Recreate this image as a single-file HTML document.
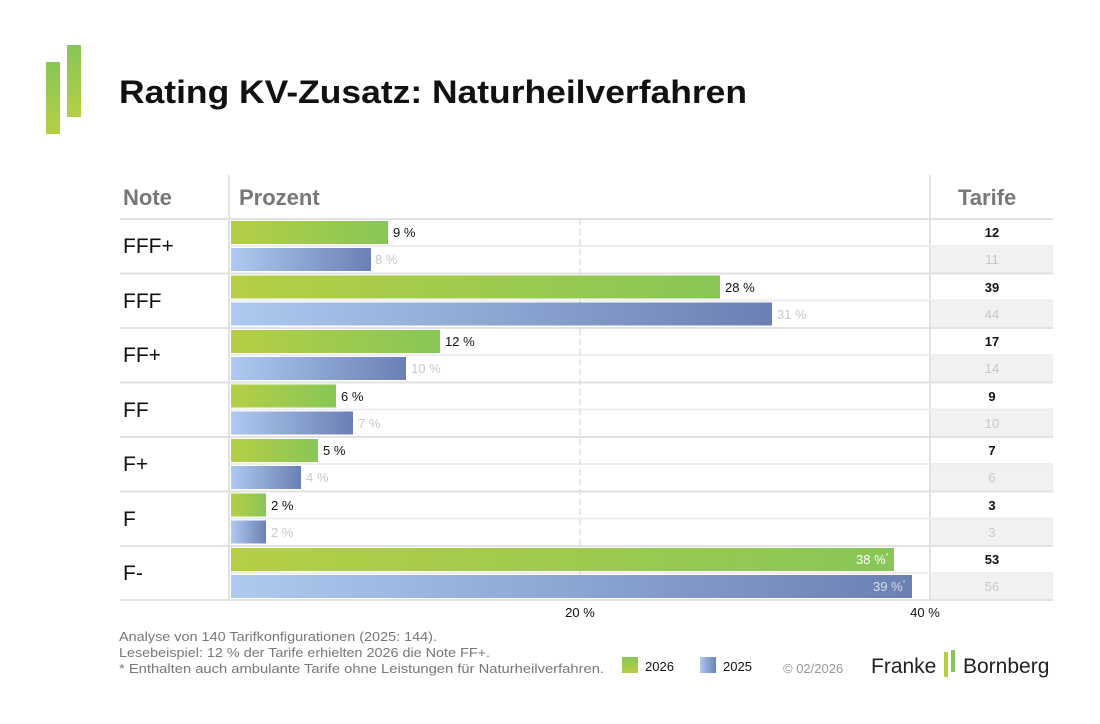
<!DOCTYPE html><html><head><meta charset="utf-8"><style>body{margin:0;background:#fff}svg{display:block;font-family:"Liberation Sans",sans-serif}</style></head><body>
<svg width="1100" height="724" viewBox="0 0 1100 724">
<defs>
<linearGradient id="g" x1="0" x2="1"><stop offset="0" stop-color="#b5cf45"/><stop offset="1" stop-color="#88c657"/></linearGradient>
<linearGradient id="b" x1="0" x2="1"><stop offset="0" stop-color="#aecaf0"/><stop offset="1" stop-color="#6b80b3"/></linearGradient>
<linearGradient id="lg" x1="0" y1="0" x2="0" y2="1"><stop offset="0" stop-color="#88c657"/><stop offset="1" stop-color="#b5cf45"/></linearGradient>
</defs>
<rect x="46" y="62" width="14" height="72" fill="url(#lg)"/>
<rect x="67" y="45" width="14" height="72" fill="url(#lg)"/>
<text x="119" y="103" font-size="32" font-weight="bold" fill="#111" textLength="628" lengthAdjust="spacingAndGlyphs">Rating KV-Zusatz: Naturheilverfahren</text>
<g font-size="22" font-weight="bold" fill="#777">
<text x="123" y="205">Note</text><text x="239" y="205">Prozent</text><text x="958" y="205">Tarife</text></g>
<g fill="#f1f1f1">
<rect x="931" y="247" width="122" height="26"/><rect x="931" y="301.5" width="122" height="26"/><rect x="931" y="356" width="122" height="26"/><rect x="931" y="410.5" width="122" height="26"/><rect x="931" y="465" width="122" height="26"/><rect x="931" y="519.5" width="122" height="26"/><rect x="931" y="574" width="122" height="26"/></g>
<g stroke="#e2e2e2" stroke-width="2">
<line x1="229" y1="175" x2="229" y2="600"/><line x1="930" y1="175" x2="930" y2="600"/>
<line x1="120" y1="219" x2="1053" y2="219"/><line x1="120" y1="273.5" x2="1053" y2="273.5"/><line x1="120" y1="328" x2="1053" y2="328"/><line x1="120" y1="382.5" x2="1053" y2="382.5"/><line x1="120" y1="437" x2="1053" y2="437"/><line x1="120" y1="491.5" x2="1053" y2="491.5"/><line x1="120" y1="546" x2="1053" y2="546"/><line x1="120" y1="600" x2="1053" y2="600"/>
</g>
<g stroke="#eee" stroke-width="2">
<line x1="231" y1="246" x2="1053" y2="246"/><line x1="231" y1="300.5" x2="1053" y2="300.5"/><line x1="231" y1="355" x2="1053" y2="355"/><line x1="231" y1="409.5" x2="1053" y2="409.5"/><line x1="231" y1="464" x2="1053" y2="464"/><line x1="231" y1="518.5" x2="1053" y2="518.5"/><line x1="231" y1="573" x2="1053" y2="573"/></g>
<line x1="580" y1="219" x2="580" y2="600" stroke="#ddd" stroke-width="1.5" stroke-dasharray="6,4"/>
<g>
<rect x="231" y="221" width="157" height="23" fill="url(#g)"/><rect x="231" y="248" width="140" height="23" fill="url(#b)"/>
<rect x="231" y="275.5" width="489" height="23" fill="url(#g)"/><rect x="231" y="302.5" width="541" height="23" fill="url(#b)"/>
<rect x="231" y="330" width="209" height="23" fill="url(#g)"/><rect x="231" y="357" width="175" height="23" fill="url(#b)"/>
<rect x="231" y="384.5" width="105" height="23" fill="url(#g)"/><rect x="231" y="411.5" width="122" height="23" fill="url(#b)"/>
<rect x="231" y="439" width="87" height="23" fill="url(#g)"/><rect x="231" y="466" width="70" height="23" fill="url(#b)"/>
<rect x="231" y="493.5" width="35" height="23" fill="url(#g)"/><rect x="231" y="520.5" width="35" height="23" fill="url(#b)"/>
<rect x="231" y="548" width="663" height="23" fill="url(#g)"/><rect x="231" y="575" width="681" height="23" fill="url(#b)"/>
</g>
<g font-size="13" fill="#111">
<text x="393" y="237">9 %</text><text x="725" y="292">28 %</text><text x="445" y="346">12 %</text><text x="341" y="401">6 %</text><text x="323" y="455">5 %</text><text x="271" y="510">2 %</text></g>
<g font-size="13" fill="#c8c8c8">
<text x="375" y="264">8 %</text><text x="777" y="319">31 %</text><text x="411" y="373">10 %</text><text x="358" y="428">7 %</text><text x="306" y="482">4 %</text><text x="271" y="537">2 %</text></g>
<text x="856" y="564" font-size="13" fill="#fff">38 %<tspan font-size="7" dy="-6">*</tspan></text>
<text x="873" y="591" font-size="13" fill="#d8dde8">39 %<tspan font-size="7" dy="-6">*</tspan></text>
<g font-size="21" fill="#111">
<text x="123" y="253">FFF+</text><text x="123" y="308">FFF</text><text x="123" y="362">FF+</text><text x="123" y="417">FF</text><text x="123" y="471">F+</text><text x="123" y="526">F</text><text x="123" y="580">F-</text></g>
<g font-size="13" text-anchor="middle" fill="#111" font-weight="bold">
<text x="992" y="237">12</text><text x="992" y="292">39</text><text x="992" y="346">17</text><text x="992" y="401">9</text><text x="992" y="455">7</text><text x="992" y="510">3</text><text x="992" y="564">53</text></g>
<g font-size="13" text-anchor="middle" fill="#c8c8c8">
<text x="992" y="264">11</text><text x="992" y="319">44</text><text x="992" y="373">14</text><text x="992" y="428">10</text><text x="992" y="482">6</text><text x="992" y="537">3</text><text x="992" y="591">56</text></g>
<g font-size="13" fill="#111" text-anchor="middle"><text x="580" y="617">20 %</text><text x="925" y="617">40 %</text></g>
<g font-size="13" fill="#777">
<text x="119" y="641" textLength="318" lengthAdjust="spacingAndGlyphs">Analyse von 140 Tarifkonfigurationen (2025: 144).</text>
<text x="119" y="657" textLength="371" lengthAdjust="spacingAndGlyphs">Lesebeispiel: 12 % der Tarife erhielten 2026 die Note FF+.</text>
<text x="119" y="673" textLength="485" lengthAdjust="spacingAndGlyphs">* Enthalten auch ambulante Tarife ohne Leistungen für Naturheilverfahren.</text>
<text x="783" y="673" fill="#999">© 02/2026</text></g>
<rect x="622" y="657" width="16" height="16" fill="url(#lg)"/><rect x="700" y="657" width="16" height="16" fill="url(#b)"/>
<g font-size="13" fill="#111"><text x="645" y="671">2026</text><text x="723" y="671">2025</text></g>
<text x="871" y="673" font-size="21" fill="#222">Franke</text>
<rect x="944" y="652" width="4" height="25" fill="#b5cf45"/><rect x="951" y="650" width="4" height="22" fill="#88c657"/>
<text x="963" y="673" font-size="21" fill="#222">Bornberg</text>
</svg></body></html>
